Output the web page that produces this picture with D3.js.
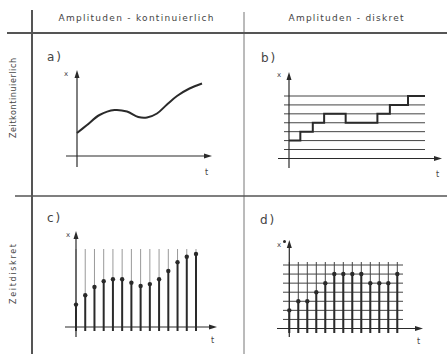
<!DOCTYPE html>
<html>
<head>
<meta charset="utf-8">
<script src="https://cdn.jsdelivr.net/npm/d3@7"></script>
<style>
  body { margin: 0; background: #fff; }
  text { font-family: "DejaVu Sans", sans-serif; fill: #444; }
</style>
</head>
<body>
<div id="chart"></div>
<script>
// header / row labels
const colLabels = ["Amplituden - kontinuierlich", "Amplituden - diskret"]
const rowLabels = ["Zeitkontinuierlich", "Zeitdiskret"]
const panelLabels = ["a)", "b)", "c)", "d)"]

// a) continuous curve (t, x)
const curveT = [0, 0.8, 1.8, 3.0, 4.0, 4.9, 5.6, 6.4, 7.2, 8.0, 9.0, 10]
const curveX = [2.3, 3.1, 4.1, 4.6, 4.45, 3.9, 3.85, 4.25, 5.15, 6.0, 6.75, 7.25]

// b) quantized levels, step start times and levels
const levelsB = [0, 1, 2, 3, 4, 5, 6]
const stepT = [0, 1, 2.1, 3.1, 5, 7.8, 8.9, 10.5, 12]
const stepLevel = [1, 2, 3, 4, 3, 4, 5, 6, 6]

// c) sampled values
const samplesC = [2.3, 3.25, 4.1, 4.7, 4.9, 4.9, 4.55, 4.2, 4.4, 4.9, 5.75, 6.65, 7.2, 7.5]

// d) sampled + quantized levels
const levelsD = [1, 2, 3, 4, 5, 6, 7]
const samplesD = [2, 3, 3, 4, 5, 6, 6, 6, 6, 5, 5, 5, 6]

const W = 447, H = 354
const svg = d3.select("#chart").append("svg")
    .attr("width", W).attr("height", H)

const ink = "#2a2a2a"
const tableInk = "#555"

// table lines
svg.append("line").attr("x1", 32).attr("x2", 32).attr("y1", 10).attr("y2", H)
    .attr("stroke", tableInk).attr("stroke-width", 2)
svg.append("line").attr("x1", 244).attr("x2", 244).attr("y1", 12).attr("y2", H)
    .attr("stroke", "#777").attr("stroke-width", 1)
svg.append("line").attr("x1", 7).attr("x2", W).attr("y1", 33).attr("y2", 33)
    .attr("stroke", tableInk).attr("stroke-width", 2)
svg.append("line").attr("x1", 15).attr("x2", W).attr("y1", 196).attr("y2", 196)
    .attr("stroke", tableInk).attr("stroke-width", 1.5)

svg.selectAll(".colLabel").data(colLabels).enter().append("text")
    .attr("x", (d, i) => i == 0 ? 136 : 346)
    .attr("y", 21)
    .attr("text-anchor", "middle")
    .attr("font-size", 9)
    .attr("textLength", (d, i) => i == 0 ? 155 : 115)
    .text(d => d)

svg.selectAll(".rowLabel").data(rowLabels).enter().append("text")
    .attr("transform", (d, i) => "translate(16," + (i == 0 ? 98 : 274) + ") rotate(-90)")
    .attr("text-anchor", "middle")
    .attr("font-size", 8)
    .attr("textLength", (d, i) => i == 0 ? 80 : 60)
    .text(d => d)

const labelPos = [[47, 61], [261, 62], [47, 222], [260, 224]]
svg.selectAll(".panelLabel").data(panelLabels).enter().append("text")
    .attr("x", (d, i) => labelPos[i][0])
    .attr("y", (d, i) => labelPos[i][1])
    .attr("font-size", 12)
    .attr("letter-spacing", 2)
    .text(d => d)

function drawAxes(x0, y0, yTop, yBottom, xLeft, xRight, xName, tPos, xPos){
    let g = svg.append("g")
    g.append("line").attr("x1", x0).attr("x2", x0).attr("y1", yTop + 6).attr("y2", yBottom)
        .attr("stroke", ink).attr("stroke-width", 1.2)
    g.append("line").attr("x1", xLeft).attr("x2", xRight - 6).attr("y1", y0).attr("y2", y0)
        .attr("stroke", ink).attr("stroke-width", 1.2)
    g.append("path")
        .attr("d", "M" + x0 + "," + yTop + "L" + (x0 - 2.5) + "," + (yTop + 8) + "L" + (x0 + 2.5) + "," + (yTop + 8) + "Z")
        .attr("fill", ink)
    g.append("path")
        .attr("d", "M" + xRight + "," + y0 + "L" + (xRight - 8) + "," + (y0 - 2.5) + "L" + (xRight - 8) + "," + (y0 + 2.5) + "Z")
        .attr("fill", ink)
    g.append("text").attr("x", xPos[0]).attr("y", xPos[1]).attr("font-size", 7).text(xName)
    g.append("text").attr("x", tPos[0]).attr("y", tPos[1]).attr("font-size", 8).text("t")
    return g
}

// ---- a) ----
const tA = d3.scaleLinear().domain([0, 10]).range([77, 202])
const xA = d3.scaleLinear().domain([0, 8]).range([156, 76])
drawAxes(tA(0), xA(0), 70, 167, 66, 212, "x", [205, 175], [64, 76])
svg.append("path")
    .datum(curveT.map((t, i) => [t, curveX[i]]))
    .attr("fill", "none").attr("stroke", ink).attr("stroke-width", 2)
    .attr("d", d3.line().x(d => tA(d[0])).y(d => xA(d[1])).curve(d3.curveCatmullRom))

// ---- b) ----
const tB = d3.scaleLinear().domain([0, 12]).range([289, 425])
const lB = d3.scaleLinear().domain([0, 6]).range([149.5, 96])
svg.append("g").selectAll("line").data(levelsB).enter().append("line")
    .attr("x1", 284).attr("x2", tB(12))
    .attr("y1", d => lB(d)).attr("y2", d => lB(d))
    .attr("stroke", "#444").attr("stroke-width", 1)
drawAxes(tB(0), 158.5, 72, 168, 278, 442, "x", [436, 177], [277, 77])
svg.append("path")
    .datum(stepT.map((t, i) => [t, stepLevel[i]]))
    .attr("fill", "none").attr("stroke", ink).attr("stroke-width", 2)
    .attr("d", d3.line().x(d => tB(d[0])).y(d => lB(d[1])).curve(d3.curveStepAfter))

// ---- c) ----
const nC = d3.scaleLinear().domain([0, samplesC.length - 1]).range([76, 196])
const yC = d3.scaleLinear().domain([0, 8]).range([327, 249])
let gC = svg.append("g")
gC.selectAll(".thin").data(samplesC).enter().append("line")
    .attr("x1", (d, i) => nC(i)).attr("x2", (d, i) => nC(i))
    .attr("y1", yC(8)).attr("y2", d => yC(d))
    .attr("stroke", "#999").attr("stroke-width", 1)
drawAxes(nC(0), yC(0), 231, 337, 65, 217, "x", [211, 343], [66, 237])
gC.selectAll(".stem").data(samplesC).enter().append("line")
    .attr("x1", (d, i) => nC(i)).attr("x2", (d, i) => nC(i))
    .attr("y1", d => yC(d)).attr("y2", yC(0) + 4)
    .attr("stroke", ink).attr("stroke-width", 2)
gC.selectAll("circle").data(samplesC).enter().append("circle")
    .attr("cx", (d, i) => nC(i)).attr("cy", d => yC(d)).attr("r", 2.2)
    .attr("fill", ink)

// ---- d) ----
const nD = d3.scaleLinear().domain([0, samplesD.length - 1]).range([289.3, 397.3])
const lD = d3.scaleLinear().domain([0, 7]).range([328.5, 265])
let gD = svg.append("g")
gD.selectAll(".hgrid").data(levelsD).enter().append("line")
    .attr("x1", 283).attr("x2", 403)
    .attr("y1", d => lD(d)).attr("y2", d => lD(d))
    .attr("stroke", "#444").attr("stroke-width", 1)
gD.selectAll(".vgrid").data(samplesD).enter().append("line")
    .attr("x1", (d, i) => nD(i)).attr("x2", (d, i) => nD(i))
    .attr("y1", 262).attr("y2", 333)
    .attr("stroke", "#444").attr("stroke-width", 1)
drawAxes(nD(0), lD(0), 240, 337, 277, 423, "x", [417, 344], [277, 247])
svg.append("circle").attr("cx", 284.5).attr("cy", 241.5).attr("r", 1.5).attr("fill", ink)
gD.selectAll(".stem").data(samplesD).enter().append("line")
    .attr("x1", (d, i) => nD(i)).attr("x2", (d, i) => nD(i))
    .attr("y1", d => lD(d)).attr("y2", 333)
    .attr("stroke", ink).attr("stroke-width", 2)
gD.selectAll("circle").data(samplesD).enter().append("circle")
    .attr("cx", (d, i) => nD(i)).attr("cy", d => lD(d)).attr("r", 2.2)
    .attr("fill", ink)
</script>
</body>
</html>
